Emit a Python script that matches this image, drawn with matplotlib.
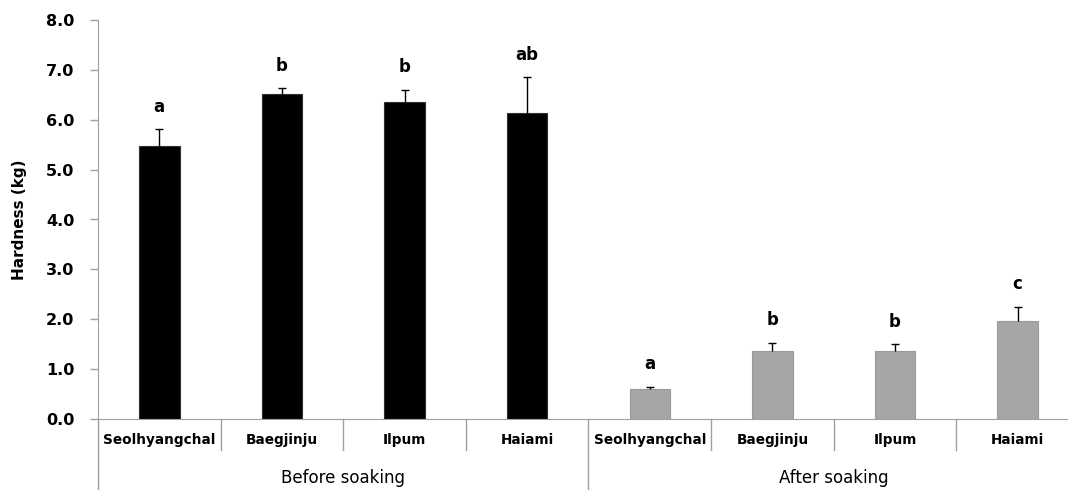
import numpy as np
import matplotlib
matplotlib.use("Agg")
import matplotlib.pyplot as plt

varieties = ["Seolhyangchal", "Baegjinju", "Ilpum", "Haiami"]
groups = ["Before soaking", "After soaking"]
before_mean = [5.47, 6.51, 6.36, 6.14]
before_err = [0.34, 0.12, 0.24, 0.71]
before_sig = ["a", "b", "b", "ab"]
after_mean = [0.61, 1.36, 1.36, 1.96]
after_err = [0.04, 0.17, 0.14, 0.29]
after_sig = ["a", "b", "b", "c"]
yticks = [0, 1, 2, 3, 4, 5, 6, 7, 8]

plt.rcParams["font.family"] = ["DejaVu Sans"]
axis_gray = "#a0a0a0"

fig = plt.figure(figsize=(10.68, 4.9), dpi=100)
ax = fig.add_axes([98 / 1068, 71 / 490, 981 / 1068, 399 / 490])

n = len(varieties)
x_before = np.arange(n)
x_after = np.arange(n) + n
w = 0.33

ax.bar(x_before, before_mean, w, color="black", edgecolor="#303030", linewidth=0.8, zorder=2)
ax.bar(x_after, after_mean, w, color="#a6a6a6", edgecolor="#9a9a9a", linewidth=0.8, zorder=2)

for xs, m, e, s in [(x_before, before_mean, before_err, before_sig),
                    (x_after, after_mean, after_err, after_sig)]:
    eb = ax.errorbar(xs, m, yerr=[np.zeros(n), e], fmt="none", ecolor="black",
                     elinewidth=1, capsize=3, capthick=1, zorder=3)
    eb[1][0].set_visible(False)  # hide lower cap
    for xi, mi, ei, si in zip(xs, m, e, s):
        ax.text(xi, mi + ei + 0.45, si, ha="center", va="center",
                fontsize=12, fontweight="bold")

ax.set_xlim(-0.5, 2 * n - 0.5)
ax.set_ylim(0, 8)
ax.set_yticks(yticks)
ax.set_yticklabels([f"{v:.1f}" for v in yticks], fontsize=11.5, fontweight="bold")
ax.set_ylabel("Hardness (kg)", fontsize=11, fontweight="bold", labelpad=14)

for sp in ["top", "right"]:
    ax.spines[sp].set_visible(False)
ax.spines["left"].set_color(axis_gray)
ax.spines["bottom"].set_color(axis_gray)
ax.tick_params(axis="y", length=6, color=axis_gray, width=1, pad=11)
ax.set_xticks([])

# category labels and separators below the axis
xt = ax.get_xaxis_transform()
for i, name in enumerate(varieties + varieties):
    ax.text(i, -0.053, name, transform=xt, ha="center", va="center",
            fontsize=9.8, fontweight="bold")
for b in np.arange(2 * n + 1) - 0.5:
    long = (b + 0.5) % n == 0
    ax.plot([b, b], [0, -0.2 if long else -0.078], transform=xt,
            color=axis_gray, lw=1, clip_on=False)
for g, name in enumerate(groups):
    ax.text(g * n + (n - 1) / 2, -0.148, name, transform=xt, ha="center",
            va="center", fontsize=12)

fig.savefig("out.png", dpi=100)
